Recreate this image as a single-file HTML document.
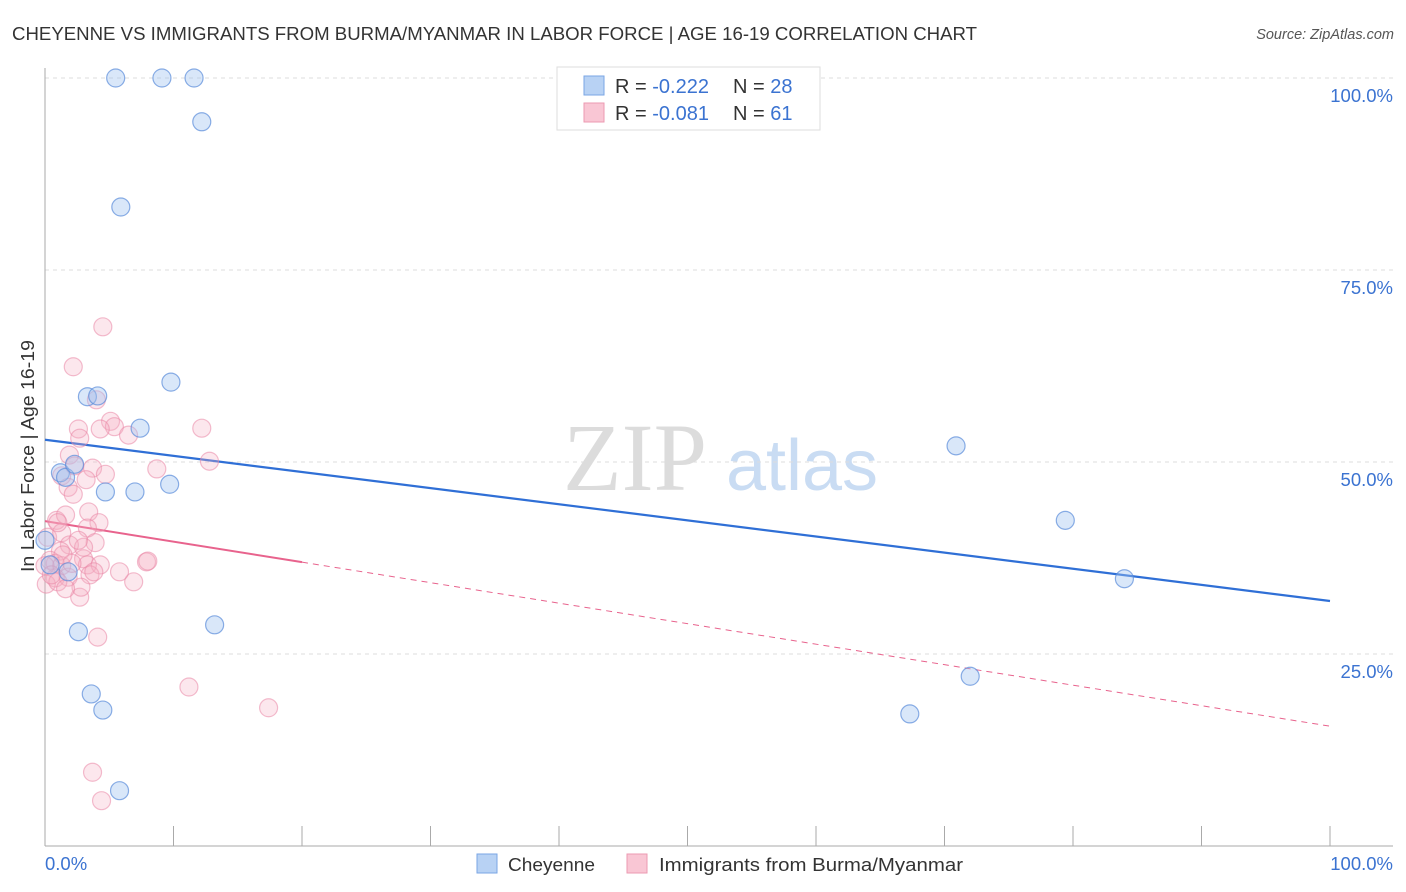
<!DOCTYPE html>
<html><head><meta charset="utf-8"><style>
body{margin:0;background:#fff;font-family:"Liberation Sans",sans-serif;}
svg{display:block}
</style></head><body>
<svg id="chart" width="1406" height="892">
<text x="12" y="40" font-size="18" fill="#333" textLength="965" lengthAdjust="spacingAndGlyphs">CHEYENNE VS IMMIGRANTS FROM BURMA/MYANMAR IN LABOR FORCE | AGE 16-19 CORRELATION CHART</text>
<text x="1394" y="39" font-size="14.5" fill="#555" font-style="italic" text-anchor="end">Source: ZipAtlas.com</text>
<g><text x="635" y="490" font-size="96" font-family="Liberation Serif,serif" fill="#dcdcdc" text-anchor="middle">ZIP</text><text x="802" y="490" font-size="72" fill="#c9dcf3" text-anchor="middle">atlas</text></g>
<g id="grid"></g><g id="axes"></g><g id="trends"></g><g id="pts"></g>
<text transform="translate(34,456) rotate(-90)" font-size="18" fill="#333" text-anchor="middle" textLength="232" lengthAdjust="spacingAndGlyphs">In Labor Force | Age 16-19</text>
<g>
<rect x="557" y="67" width="263" height="63" fill="#fff" stroke="#ddd"/>
<rect x="584" y="76" width="20" height="19" fill="#b8d2f4" stroke="#7aa6e4"/>
<rect x="584" y="103" width="20" height="19" fill="#f9c6d4" stroke="#ec9ab2"/>
<text x="615" y="93" font-size="20" fill="#333">R = <tspan fill="#3b73d1">-0.222</tspan><tspan x="733">N = </tspan><tspan fill="#3b73d1">28</tspan></text>
<text x="615" y="120" font-size="20" fill="#333">R = <tspan fill="#3b73d1">-0.081</tspan><tspan x="733">N = </tspan><tspan fill="#3b73d1"> 61</tspan></text>
</g>
<g>
<rect x="477" y="854" width="20" height="19" fill="#b8d2f4" stroke="#7aa6e4"/>
<text x="508" y="871" font-size="18.5" fill="#333" textLength="87" lengthAdjust="spacingAndGlyphs">Cheyenne</text>
<rect x="627" y="854" width="20" height="19" fill="#f9c6d4" stroke="#ec9ab2"/>
<text x="659" y="871" font-size="18.5" fill="#333" textLength="304" lengthAdjust="spacingAndGlyphs">Immigrants from Burma/Myanmar</text>
</g>
</svg>
<script>
const blueX=[5.5,9.1,11.6,12.2,5.9,9.8,3.3,4.1,7.4,1.2,1.6,2.3,4.7,7.0,9.7,0,1.8,2.6,13.2,3.6,4.5,5.8,70.9,79.4,84.0,72.0,67.3,0.4];
const blueY=[100,100,100,94.3,83.2,60.4,58.5,58.6,54.4,48.6,48.0,49.7,46.1,46.1,47.1,39.8,35.7,27.9,28.8,19.8,17.7,7.2,52.1,42.4,34.8,22.1,17.2,36.6];
const pinkX=[4.5,2.2,4.0,5.1,5.4,4.3,6.5,2.6,2.7,12.2,12.8,8.7,1.9,2.3,3.7,4.7,1.3,3.2,1.8,2.2,0.9,3.4,1.6,4.2,3.3,0.2,1.3,1.9,3.9,1.2,0.4,0.8,1.3,3.0,3.3,4.3,7.9,8.0,3.5,3.8,0.8,1.8,0.1,1.0,6.9,2.7,2.8,4.1,11.2,17.4,3.7,4.4,1.0,0,2.1,0.5,1.6,3.0,1.4,2.6,5.8];
const pinkY=[67.6,62.4,58.1,55.3,54.6,54.3,53.5,54.3,53.1,54.4,50.1,49.1,50.9,49.5,49.2,48.4,48.2,47.7,46.7,45.8,42.4,43.5,43.1,42.1,41.4,40.2,40.8,39.2,39.5,38.4,37.2,36.8,36.5,37.4,36.6,36.6,37.0,37.1,35.3,35.7,34.9,35.0,34.1,34.4,34.4,32.4,33.7,27.2,20.7,18.0,9.6,5.9,42.1,36.5,36.8,35.3,33.5,38.9,37.9,39.8,35.7];
const blueTrend=[52.9,31.9];
const pinkTrend=[42.3,15.6];
const pinkSolidEnd=20;
const yTicks=[25,50,75,100];
const yTickLabels=["25.0%","50.0%","75.0%","100.0%"];
const xTicks=[0,10,20,30,40,50,60,70,80,90,100];

const NS="http://www.w3.org/2000/svg";
const X=v=>45+v*12.85, Y=v=>846-v*7.68;
function mk(tag,attrs,parent){const e=document.createElementNS(NS,tag);for(const k in attrs)e.setAttribute(k,attrs[k]);document.getElementById(parent).appendChild(e);return e;}
yTicks.forEach((t,i)=>{
 const l=mk('line',{x1:45,x2:1393,y1:Y(t),y2:Y(t),stroke:'#ddd','stroke-dasharray':'4,4'},'grid');
 
 
 const tx=mk('text',{x:1393,y:Y(t)+24,'font-size':18.5,fill:'#3b73d1','text-anchor':'end'},'grid');
 tx.textContent=yTickLabels[i];
 
 
});
let a=mk('line',{x1:45,x2:45,y1:68,y2:846,stroke:'#aaa'},'axes');


a=mk('line',{x1:45,x2:1393,y1:846,y2:846,stroke:'#aaa'},'axes');


xTicks.forEach(t=>{const l=mk('line',{x1:X(t),x2:X(t),y1:826,y2:846,stroke:'#aaa'},'axes');
 
 });
[[0,'0.0%',45,'start'],[100,'100.0%',1393,'end']].forEach(d=>{const t=mk('text',{x:d[2],y:870,'font-size':18.5,fill:'#3b73d1','text-anchor':d[3]},'axes');t.textContent=d[1];
 
 });
const pt=(xv,a,b)=>a+(b-a)*xv/100;
let tl=mk('line',{x1:X(0),y1:Y(blueTrend[0]),x2:X(100),y2:Y(blueTrend[1]),stroke:'#2f6fd6','stroke-width':2.2},'trends');


tl=mk('line',{x1:X(0),y1:Y(pinkTrend[0]),x2:X(pinkSolidEnd),y2:Y(pt(pinkSolidEnd,pinkTrend[0],pinkTrend[1])),stroke:'#e8638d','stroke-width':2},'trends');


tl=mk('line',{x1:X(pinkSolidEnd),y1:Y(pt(pinkSolidEnd,pinkTrend[0],pinkTrend[1])),x2:X(100),y2:Y(pinkTrend[1]),stroke:'#e8638d','stroke-width':1,'stroke-dasharray':'6,5'},'trends');


pinkX.forEach((v,i)=>{const c=mk('circle',{cx:X(v),cy:Y(pinkY[i]),r:9,fill:'rgba(246,175,196,0.3)',stroke:'rgba(234,135,165,0.55)','stroke-width':1.2},'pts');
 
 });
blueX.forEach((v,i)=>{const c=mk('circle',{cx:X(v),cy:Y(blueY[i]),r:9,fill:'rgba(160,196,240,0.4)',stroke:'rgba(90,140,218,0.7)','stroke-width':1.2},'pts');
 
 });
</script>
</body></html>
